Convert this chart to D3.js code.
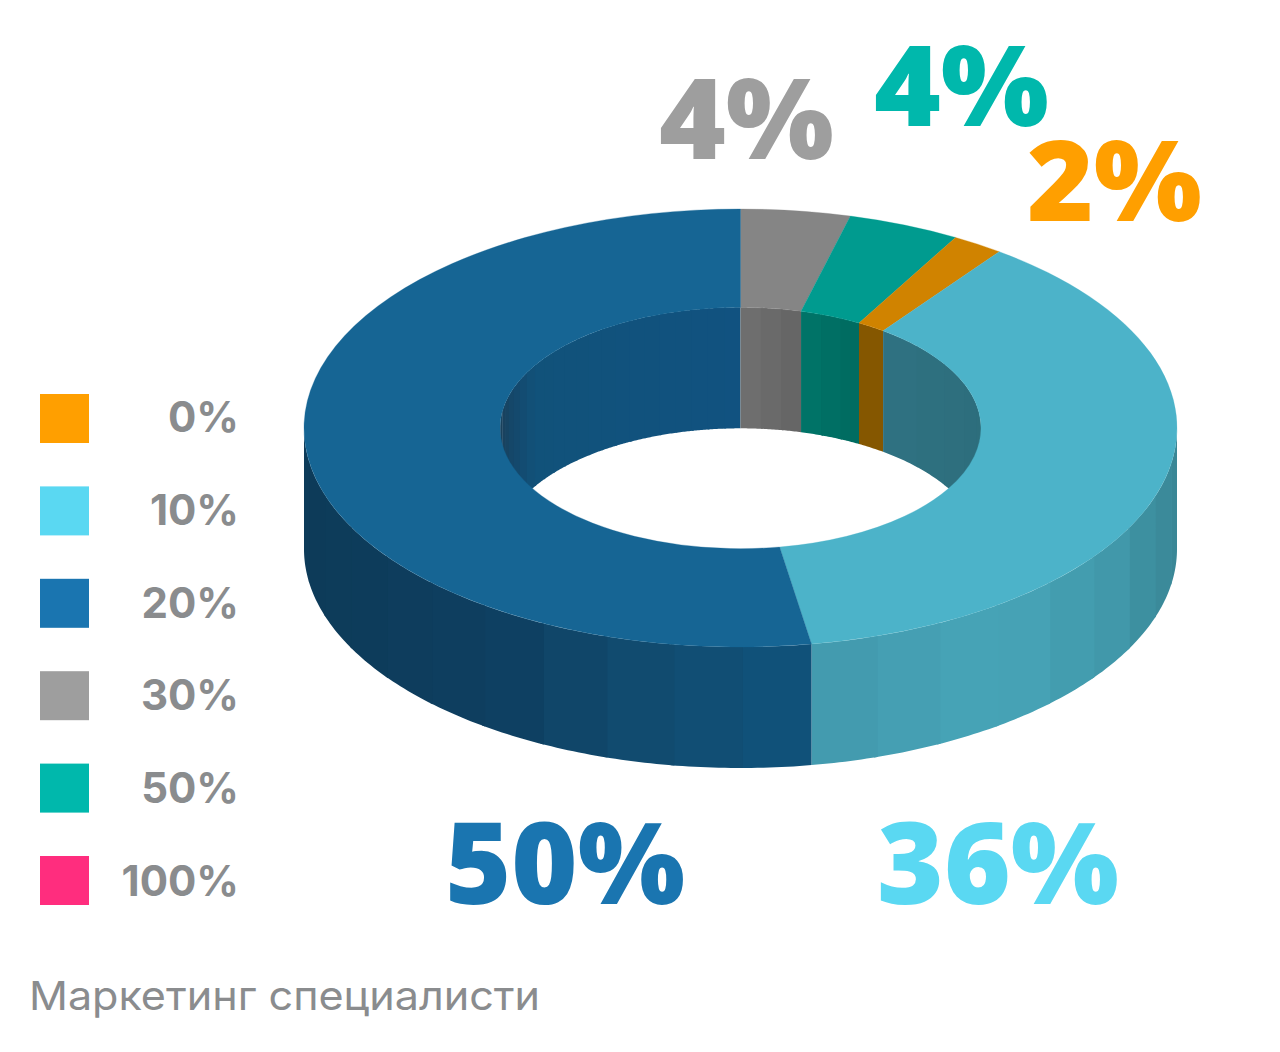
<!DOCTYPE html>
<html><head><meta charset="utf-8">
<script src="https://cdnjs.cloudflare.com/ajax/libs/d3/7.8.5/d3.min.js"></script>
<style>html,body{margin:0;background:#fff}svg{display:block}text{font-family:Inter,"Noto Sans",sans-serif}</style>
</head><body><svg id="c" width="1280" height="1052"></svg>
<script>
// Data
const sliceNames = ["30%","50%","0%","10%","20%"];
const sliceLabels = ["4%","4%","2%","36%","50%"];
const sliceShares = [4.05,4.15,1.9,37.3,52.6]; // drawn shares read from the slice boundaries
const topColors = ["#858585","#009b8f","#d08300","#4cb3c9","#166594"];
const innerWall = [["#707070","#646464"],["#007569","#006a60"],["#855700","#855700"],["#2f7282","#2d6e7c"],["#163f5c","#115280"]];
const labelColors = ["#9e9e9e","#00b8ac","#ff9f00","#5ad8f2","#1a75b0"];
const legendLabels = ["0%","10%","20%","30%","50%","100%"];
const legendColors = ["#ff9f00","#5ad8f2","#1a75b0","#9e9e9e","#00b8ac","#ff2d7e"];
const caption = "Маркетинг специалисти";

const svg = d3.select("#c");
const cx=740.5, cy=428, rOuter=436.5, rInner=240.5, squash=219/436.5, depth=121;
const PI=Math.PI, rad=d=>d*PI/180;
const arcs = d3.pie().sort(null).value(d=>d)(sliceShares);
const px=(r,a)=>cx+r*Math.sin(a), py=(r,a)=>cy-r*squash*Math.cos(a);

function strips(r,a0,a1,step,col){
  if(a1<=a0) return;
  const n=Math.max(1,Math.round((a1-a0)/step));
  const scale=d3.scaleLinear().domain([0,n]).range([a0,a1]);
  d3.range(n).forEach(k=>{
    const s=scale(k), e=k===n-1?scale(k+1):scale(k+1)+rad(0.5);
    const pts=d3.range(0,13).map(j=>s+(e-s)*j/12);
    svg.append("path")
      .attr("d",d3.area().x(a=>px(r,a)).y0(a=>py(r,a)).y1(a=>py(r,a)+depth)(pts))
      .attr("fill",col(px(r,(scale(k)+scale(k+1))/2)));
  });
}
const lightOuter=d3.scaleLinear().domain([811,1000,1110,1177]).range(["#4299ad","#47a5b8","#4199ab","#3a8796"]).clamp(true);
const darkOuter=d3.scaleLinear().domain([304,500,620,811]).range(["#0d3b59","#0e3f60","#114a6e","#10527b"]).clamp(true);
const darkInner=d3.scaleLinear().domain([500,512,535,741]).range(["#1a405a","#15476a","#11527a","#115280"]).clamp(true);

// outer wall: lower half of the ring
strips(rOuter,PI/2,arcs[3].endAngle,rad(9),lightOuter);
strips(rOuter,arcs[4].startAngle,3*PI/2,rad(9),darkOuter);
// inner wall: upper half of the hole
strips(rInner,-PI/2,0,rad(4),darkInner);
[0,1,2].forEach(i=>{
  const c=d3.scaleLinear().domain([px(rInner,arcs[i].startAngle),px(rInner,arcs[i].endAngle)]).range(innerWall[i]);
  strips(rInner,arcs[i].startAngle,arcs[i].endAngle,rad(5),c);
});
{
  const c=d3.scaleLinear().domain([px(rInner,arcs[3].startAngle),cx+rInner]).range(innerWall[3]);
  strips(rInner,arcs[3].startAngle,PI/2,rad(10),c);
}
// top surface
const g=svg.append("g").attr("transform",`translate(${cx},${cy}) scale(1,${squash})`);
g.selectAll("path").data(arcs).join("path")
  .attr("d",d3.arc().innerRadius(rInner).outerRadius(rOuter))
  .attr("fill",(d,i)=>topColors[i]).attr("stroke",(d,i)=>topColors[i]).attr("stroke-width",0.4);

// value labels
const labelPos=[[659,159,175],[874,126,175],[1027,221,175],[877,904,242],[445,904,240]];
svg.selectAll("text.val").data(sliceLabels).join("text").attr("class","val")
  .attr("x",(d,i)=>labelPos[i][0]).attr("y",(d,i)=>labelPos[i][1])
  .attr("font-size",(d,i)=>i<3?112:114).attr("font-weight",900)
  .attr("style","font-family:'Noto Sans',sans-serif")
  .attr("textLength",(d,i)=>labelPos[i][2]).attr("lengthAdjust","spacingAndGlyphs")
  .attr("fill",(d,i)=>labelColors[i]).text(d=>d);

// legend
const ly=d3.scalePoint().domain(legendLabels).range([394,856]);
const lt=d3.scalePoint().domain(legendLabels).range([432,896]);
svg.selectAll("rect.lg").data(legendLabels).join("rect").attr("class","lg")
  .attr("x",40).attr("y",d=>ly(d)).attr("width",49).attr("height",49).attr("fill",(d,i)=>legendColors[i]);
svg.selectAll("text.lg").data(legendLabels).join("text").attr("class","lg")
  .attr("x",239).attr("y",d=>lt(d)).attr("text-anchor","end").attr("font-size",42).attr("font-weight",700)
  .attr("fill","#8a8c8e").text(d=>d);
svg.append("text").attr("x",29).attr("y",1010).attr("font-size",40).attr("font-weight",400).attr("fill","#8a8c8e")
  .attr("textLength",511).attr("lengthAdjust","spacingAndGlyphs").text(caption);
</script></body></html>
